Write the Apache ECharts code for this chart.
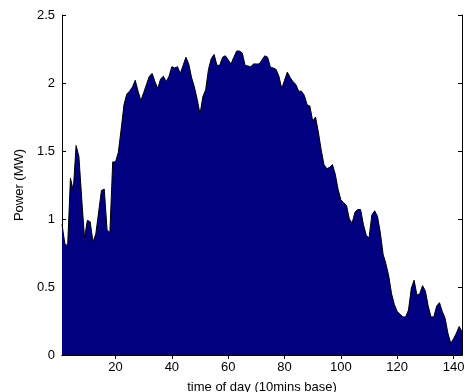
<!DOCTYPE html>
<html>
<head>
<meta charset="utf-8">
<script src="https://cdn.jsdelivr.net/npm/echarts@6/dist/echarts.min.js"></script>
<style>
html,body{margin:0;padding:0;background:#fff;}
#chart{width:465px;height:392px;}
</style>
</head>
<body>
<div id="chart"></div>
<script>
// Power (MW) per 10-minute step, steps 1..143
const power = [
  0.96, 0.82, 0.80, 1.30, 1.21, 1.54, 1.46, 1.15, 0.86, 0.99,
  0.98, 0.83, 0.89, 1.05, 1.21, 1.22, 0.92, 0.90, 1.42, 1.42,
  1.49, 1.66, 1.84, 1.92, 1.94, 1.97, 2.02, 1.94, 1.87, 1.93,
  1.99, 2.05, 2.07, 2.01, 1.96, 2.03, 2.05, 2.01, 2.05, 2.12,
  2.11, 2.12, 2.07, 2.13, 2.19, 2.14, 2.04, 1.97, 1.88, 1.77,
  1.90, 1.95, 2.10, 2.18, 2.21, 2.13, 2.13, 2.19, 2.20, 2.17,
  2.14, 2.19, 2.235, 2.235, 2.22, 2.13, 2.125, 2.12, 2.14, 2.14,
  2.14, 2.17, 2.20, 2.19, 2.115, 2.11, 2.10, 2.05, 1.96, 2.02,
  2.08, 2.04, 2.01, 1.99, 1.94, 1.94, 1.91, 1.84, 1.83, 1.72,
  1.75, 1.64, 1.51, 1.40, 1.37, 1.38, 1.40, 1.33, 1.22, 1.14,
  1.12, 1.10, 1.00, 0.97, 1.05, 1.07, 1.07, 0.96, 0.88, 0.86,
  1.03, 1.06, 1.02, 0.90, 0.74, 0.67, 0.58, 0.45, 0.37, 0.32,
  0.30, 0.28, 0.28, 0.33, 0.49, 0.55, 0.44, 0.45, 0.51, 0.47,
  0.36, 0.28, 0.28, 0.36, 0.385, 0.32, 0.27, 0.16, 0.086, 0.12,
  0.16, 0.21, 0.17
];
const timeSteps = power.map((_, i) => i + 1);
const xTicks = [20, 40, 60, 80, 100, 120, 140];
const yTicks = [0, 0.5, 1, 1.5, 2, 2.5];
const xTitle = 'time of day (10mins base)';
const yTitle = 'Power (MW)';

const font = 'Liberation Sans, Arial, sans-serif';
const lineStyle = {color: '#000', width: 1};
const chart = echarts.init(document.getElementById('chart'), null, {renderer: 'canvas'});
const seriesData = timeSteps.map((t, i) => [t, power[i]]);
const xMin = timeSteps[0], xMax = timeSteps[timeSteps.length - 1];

chart.setOption({
  animation: false,
  backgroundColor: '#fff',
  grid: {left: 62, right: 3, top: 15, bottom: 37, containLabel: false, outerBoundsMode: 'none'},
  xAxis: [{
    type: 'value', min: xMin, max: xMax, position: 'bottom',
    name: xTitle, nameLocation: 'middle', nameGap: 26,
    nameTextStyle: {color: '#000', fontFamily: font, fontSize: 13},
    axisLine: {show: true, lineStyle: lineStyle},
    axisTick: {show: true, inside: true, length: 4, lineStyle: lineStyle, customValues: xTicks},
    axisLabel: {color: '#000', fontFamily: font, fontSize: 13, margin: 6, customValues: xTicks},
    splitLine: {show: false}
  }, {
    type: 'value', min: xMin, max: xMax, position: 'top',
    axisLine: {show: true, lineStyle: lineStyle},
    axisTick: {show: true, inside: true, length: 4, lineStyle: lineStyle, customValues: xTicks},
    axisLabel: {show: false},
    splitLine: {show: false}
  }],
  yAxis: [{
    type: 'value', min: yTicks[0], max: yTicks[yTicks.length - 1], interval: 0.5, position: 'left',
    name: yTitle, nameLocation: 'middle', nameGap: 30, nameRotate: 90,
    nameTextStyle: {color: '#000', fontFamily: font, fontSize: 13},
    axisLine: {show: true, lineStyle: lineStyle},
    axisTick: {show: true, inside: true, length: 4, lineStyle: lineStyle},
    axisLabel: {color: '#000', fontFamily: font, fontSize: 13, margin: 7},
    splitLine: {show: false}
  }, {
    type: 'value', min: yTicks[0], max: yTicks[yTicks.length - 1], interval: 0.5, position: 'right',
    axisLine: {show: true, lineStyle: lineStyle},
    axisTick: {show: true, inside: true, length: 4, lineStyle: lineStyle},
    axisLabel: {show: false},
    splitLine: {show: false}
  }],
  series: [{
    type: 'line',
    data: seriesData,
    xAxisIndex: 0, yAxisIndex: 0,
    showSymbol: false,
    lineStyle: {color: '#000', width: 1},
    areaStyle: {color: '#000080', opacity: 1, origin: 'start'},
    z: 1
  }]
});
</script>
</body>
</html>
